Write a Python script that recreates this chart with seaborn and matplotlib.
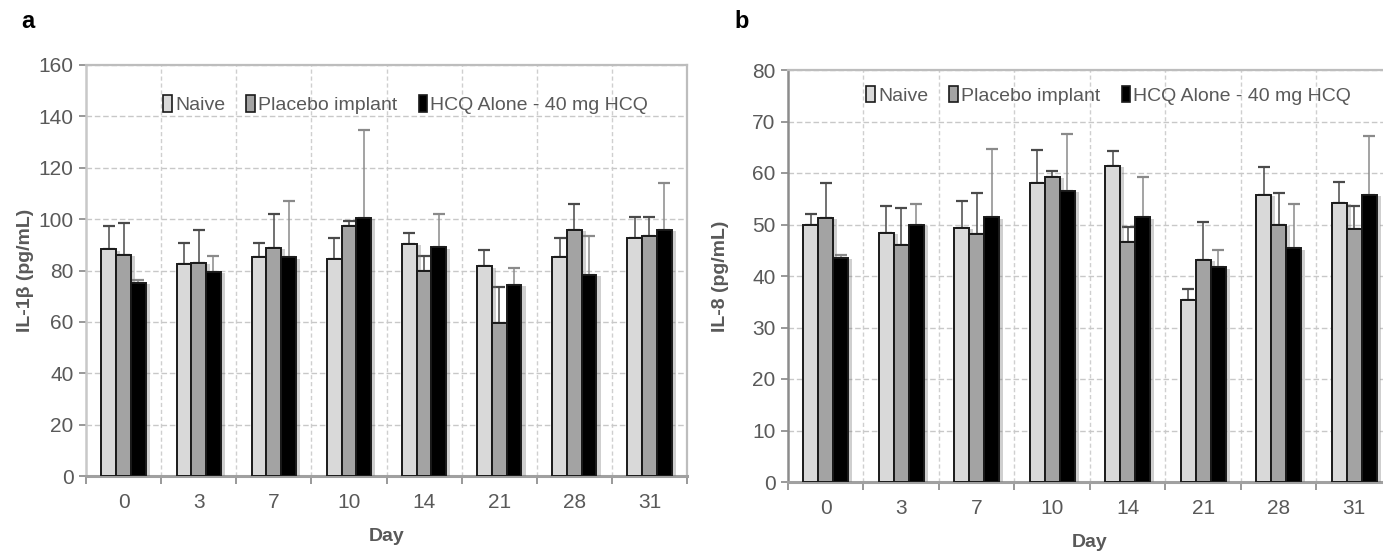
import matplotlib
matplotlib.use("Agg")
import matplotlib.pyplot as plt
import seaborn as sns
import pandas as pd
import numpy as np
from matplotlib import patheffects as pe
from matplotlib.patches import Patch
from matplotlib.container import BarContainer

days = ['0', '3', '7', '10', '14', '21', '28', '31']
groups = ['Naive', 'Placebo implant', 'HCQ Alone - 40 mg HCQ']

il1b_naive = [88.2, 82.5, 85.2, 84.5, 90.3, 81.6, 85.2, 92.6]
il1b_naive_err = [9.3, 8.1, 5.7, 8.1, 4.3, 6.2, 7.4, 8.2]
il1b_placebo = [86.2, 83.1, 88.8, 97.4, 80.0, 59.7, 95.8, 93.5]
il1b_placebo_err = [12.1, 12.6, 13.3, 1.8, 5.5, 13.8, 10.1, 7.3]
il1b_hcq = [75.1, 79.6, 85.2, 100.4, 89.0, 74.4, 78.3, 95.8]
il1b_hcq_err = [1.1, 6.0, 21.8, 34.3, 13.0, 6.4, 15.0, 18.2]

il8_naive = [50.0, 48.4, 49.4, 58.0, 61.4, 35.3, 55.8, 54.2]
il8_naive_err = [2.0, 5.1, 5.1, 6.4, 2.9, 2.2, 5.4, 4.1]
il8_placebo = [51.3, 46.0, 48.2, 59.3, 46.6, 43.2, 50.0, 49.2]
il8_placebo_err = [6.7, 7.2, 7.9, 1.0, 2.9, 7.3, 6.1, 4.3]
il8_hcq = [43.5, 50.0, 51.4, 56.5, 51.4, 41.7, 45.4, 55.8]
il8_hcq_err = [0.6, 3.9, 13.2, 11.0, 7.9, 3.4, 8.5, 11.4]

colors = ['#d9d9d9', '#a3a3a3', '#000000']
err_colors = ['#4a4a4a', '#4a4a4a', '#8a8a8a']
txt = '#595959'

sns.set_theme(style='white')
plt.rcParams['font.family'] = ['Liberation Sans', 'DejaVu Sans']


def make_df(vals, errs):
    rows = []
    for g, v, e in zip(groups, vals, errs):
        for d, vv, ee in zip(days, v, e):
            rows.append({'Day': d, 'Group': g, 'value': vv, 'err': ee})
    return pd.DataFrame(rows)


def draw(ax, df, ymax, ystep, ylabel, frame_left_color, ylabpad, leg_xy):
    sns.barplot(data=df, x='Day', y='value', hue='Group', order=days,
                hue_order=groups, palette=colors, errorbar=None,
                width=0.59, edgecolor='#1a1a1a', linewidth=1.4,
                ax=ax, legend=False, zorder=3)
    bars = [c for c in ax.containers if isinstance(c, BarContainer)]
    for ci, cont in enumerate(bars):
        sub = df[df['Group'] == groups[ci]].set_index('Day').loc[days]
        xs = [p.get_x() + p.get_width() / 2 for p in cont.patches]
        for p in cont.patches:
            p.set_path_effects([pe.SimplePatchShadow(offset=(3, -1), shadow_rgbFace='#777777', alpha=0.35),
                                pe.Normal()])
        ax.errorbar(xs, sub['value'].values,
                    yerr=[np.zeros(len(days)), sub['err'].values],
                    fmt='none', ecolor=err_colors[ci], elinewidth=1.1,
                    capsize=4, capthick=1.6, zorder=2)
    ax.set_ylim(0, ymax)
    ax.set_xlim(-0.5, 7.5)
    ax.set_yticks(np.arange(0, ymax + 1, ystep))
    ax.set_xticks(np.arange(-0.5, 8, 1.0))
    ax.set_xticklabels([])
    ax.set_xticks(np.arange(0, 8), minor=True)
    ax.set_xticklabels(days, minor=True)
    ax.tick_params(axis='x', which='major', length=6, width=1.2, color='#888888', direction='out', bottom=True)
    ax.tick_params(axis='x', which='minor', length=0, labelsize=15, labelcolor=txt, pad=12)
    ax.tick_params(axis='y', length=5, width=1.2, color='#888888', direction='out', left=True,
                   labelsize=15, labelcolor=txt, pad=4)
    ax.yaxis.grid(True, linestyle=(0, (4, 2)), color='#c8c8c8', linewidth=1.0, zorder=0)
    for xb in np.arange(0.5, 7.5, 1.0):
        ax.axvline(xb, linestyle=(0, (3, 2)), color='#cfcfcf', linewidth=1.0, zorder=0)
    ax.set_axisbelow(True)
    for s in ['top', 'right']:
        ax.spines[s].set_color('#bdbdbd')
        ax.spines[s].set_linewidth(1.6)
    ax.spines['left'].set_color(frame_left_color)
    ax.spines['left'].set_linewidth(1.8)
    ax.spines['bottom'].set_color('#a0a0a0')
    ax.spines['bottom'].set_linewidth(2.2)
    ax.set_xlabel('Day', fontsize=14, fontweight='bold', color=txt, labelpad=12)
    ax.set_ylabel(ylabel, fontsize=14, fontweight='bold', color=txt, labelpad=ylabpad)
    handles = [Patch(facecolor=c, edgecolor='#1a1a1a', linewidth=1.2) for c in colors]
    ax.legend(handles, groups, loc='center', bbox_to_anchor=leg_xy, ncol=3,
              frameon=False, fontsize=14, handlelength=0.45, handleheight=0.95,
              handletextpad=0.15, columnspacing=1.1, labelcolor=txt,
              borderpad=0, borderaxespad=0)
    return ax


fig = plt.figure(figsize=(13.83, 5.52), dpi=100)
ax1 = fig.add_axes([86 / 1383, 1 - 476 / 552, 601 / 1383, 411 / 552])
ax2 = fig.add_axes([788 / 1383, 1 - 482 / 552, 604 / 1383, 412 / 552])

draw(ax1, make_df([il1b_naive, il1b_placebo, il1b_hcq], [il1b_naive_err, il1b_placebo_err, il1b_hcq_err]),
     160, 20, 'IL-1β (pg/mL)', '#c8c8c8', 3, (0.532, 0.903))
draw(ax2, make_df([il8_naive, il8_placebo, il8_hcq], [il8_naive_err, il8_placebo_err, il8_hcq_err]),
     80, 10, 'IL-8 (pg/mL)', '#8c8c8c', 17, (0.531, 0.939))

fig.text(21 / 1383, 1 - 22 / 552, 'a', fontsize=17, fontweight='bold', color='black', va='center', ha='left')
fig.text(734 / 1383, 1 - 22 / 552, 'b', fontsize=17, fontweight='bold', color='black', va='center', ha='left')

fig.savefig('out.png', dpi=100)
